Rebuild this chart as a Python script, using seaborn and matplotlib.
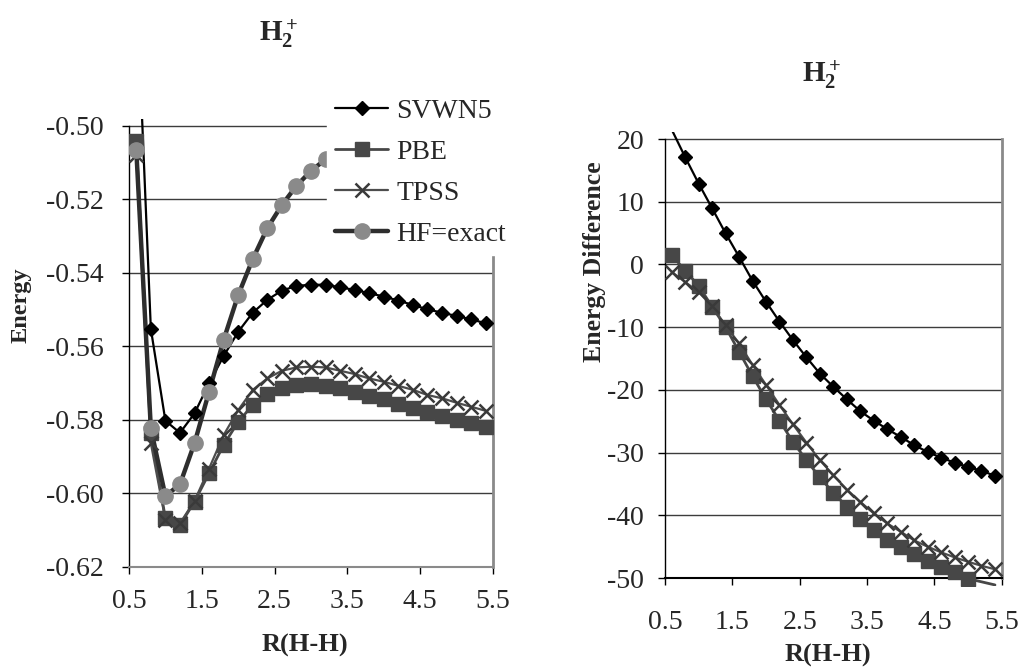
import numpy as np
import pandas as pd
import matplotlib
matplotlib.use("Agg")
import matplotlib.pyplot as plt
from matplotlib.lines import Line2D
import seaborn as sns

# ---------------- data ----------------
R = [0.6, 0.8, 1.0, 1.2, 1.4, 1.6, 1.8, 2.0, 2.2, 2.4, 2.6, 2.8, 3.0,
     3.2, 3.4, 3.6, 3.8, 4.0, 4.2, 4.4, 4.6, 4.8, 5.0, 5.2, 5.4]

# Left panel: total energies
svwn5_E = [-0.460, -0.5552, -0.5802, -0.5835, -0.5782, -0.5700, -0.5626, -0.5560,
           -0.5508, -0.5473, -0.5448, -0.5435, -0.5432, -0.5432, -0.5439, -0.5446,
           -0.5455, -0.5464, -0.5475, -0.5487, -0.5499, -0.5508, -0.5517, -0.5526, -0.5537]
pbe_E = [-0.504, -0.5836, -0.6068, -0.6086, -0.6022, -0.5945, -0.5868, -0.5805,
         -0.5759, -0.5729, -0.5714, -0.5705, -0.5702, -0.5707, -0.5714, -0.5723,
         -0.5735, -0.5744, -0.5756, -0.5768, -0.5777, -0.5789, -0.5800, -0.5809, -0.5818]
tpss_E = [-0.508, -0.5863, -0.6072, -0.6081, -0.6020, -0.5932, -0.5841, -0.5773,
          -0.5718, -0.5687, -0.5666, -0.5657, -0.5655, -0.5657, -0.5666, -0.5675,
          -0.5687, -0.5696, -0.5707, -0.5718, -0.5732, -0.5741, -0.5753, -0.5764, -0.5775]
hf_E = [-0.5065, -0.5823, -0.6007, -0.5975, -0.5863, -0.5723, -0.5582, -0.5460,
        -0.5362, -0.5278, -0.5215, -0.5163, -0.5122, -0.5091]

# Right panel: energy differences
svwn5_dE = [21.5, 17.1, 12.9, 8.95, 4.96, 1.23, -2.6, -5.95, -9.1, -12.06, -14.8,
            -17.4, -19.5, -21.5, -23.4, -24.9, -26.25, -27.5, -28.8, -29.9, -30.8,
            -31.6, -32.3, -32.9, -33.7]
pbe_dE = [1.5, -1.0, -3.4, -6.75, -10.0, -13.9, -17.8, -21.5, -24.9, -28.3, -31.2,
          -33.96, -36.4, -38.6, -40.6, -42.4, -43.9, -45.1, -46.2, -47.25, -48.2,
          -49.0, -50.1, -50.6, -51.1]
tpss_dE = [-1.2, -2.8, -4.4, -6.7, -9.7, -12.6, -16.0, -19.2, -22.4, -25.5, -28.4,
           -31.2, -33.6, -35.9, -37.85, -39.7, -41.3, -42.6, -44.0, -45.0, -45.9,
           -46.7, -47.4, -48.05, -48.6]

x_ticks = [0.5, 1.5, 2.5, 3.5, 4.5, 5.5]
left_yticks = [-0.62, -0.60, -0.58, -0.56, -0.54, -0.52, -0.50]
right_yticks = [-50, -40, -30, -20, -10, 0, 10, 20]
labels = ["SVWN5", "PBE", "TPSS", "HF=exact"]

# ---------------- style ----------------
sns.set_theme(style="white")
plt.rcParams["font.family"] = ["Liberation Serif", "DejaVu Serif"]
plt.rcParams["axes.unicode_minus"] = False
plt.rcParams["mathtext.fontset"] = "custom"
plt.rcParams["mathtext.rm"] = "Liberation Serif"
plt.rcParams["mathtext.bf"] = "Liberation Serif:bold"

styles = {
    "SVWN5": dict(color="black", lw=1.6, marker="D", ms=7.5, mfc="black", mec="black", mew=1),
    "PBE": dict(color="#474747", lw=2.0, marker="s", ms=10.0, mfc="#474747", mec="#474747", mew=1),
    "TPSS": dict(color="#4d4d4d", lw=1.6, marker="x", ms=10.0, mfc="none", mec="#3a3a3a", mew=1.8),
    "HF=exact": dict(color="#2e2e2e", lw=3.2, marker="o", ms=11.0, mfc="#8a8a8a", mec="#8a8a8a", mew=1),
}

fig = plt.figure(figsize=(10.23, 6.69), dpi=100)
axL = fig.add_axes([129 / 1023, 1 - 567 / 669, (493 - 129) / 1023, (567 - 119) / 669])
axR = fig.add_axes([665 / 1023, 1 - 586.2 / 669, (1001.7 - 665) / 1023, (586.2 - 131.5) / 669])


def draw(ax, x, y, name, lo, hi):
    st = styles[name]
    df = pd.DataFrame({"R": x[:len(y)], "E": y})
    sns.lineplot(data=df, x="R", y="E", ax=ax, color=st["color"], lw=st["lw"],
                 sort=False, estimator=None, zorder=3)
    dm = df[(df["E"] >= lo) & (df["E"] <= hi)]
    sns.lineplot(data=dm, x="R", y="E", ax=ax, linestyle="", marker=st["marker"],
                 markersize=st["ms"], markerfacecolor=st["mfc"], markeredgecolor=st["mec"],
                 markeredgewidth=st["mew"], color=st["mec"], sort=False, estimator=None,
                 zorder=4)


# ----- left panel -----
for name, vals in zip(labels, [svwn5_E, pbe_E, tpss_E, hf_E]):
    draw(axL, R, vals, name, -0.6205, -0.4995)
axL.set_xlim(0.5, 5.5)
axL.set_ylim(-0.62, -0.4981)
axL.set_yticks(left_yticks)
axL.set_yticklabels([f"{v:.2f}" for v in left_yticks])

# ----- right panel -----
for name, vals in zip(labels[:3], [svwn5_dE, pbe_dE, tpss_dE]):
    draw(axR, R, vals, name, -50.2, 20.2)
axR.set_xlim(0.5, 5.5)
axR.set_ylim(-51.3, 21.2)
axR.set_yticks(right_yticks)
axR.set_yticklabels([f"{v:d}" for v in right_yticks])

for ax, yt, bot_col in [(axL, left_yticks, "#8a8a8a"), (axR, right_yticks, "black")]:
    ax.set_facecolor("white")
    ax.set_xticks(x_ticks)
    ax.set_xticklabels([f"{v:.1f}" for v in x_ticks])
    ax.grid(False)
    for v in yt[1:]:
        ax.axhline(v, color="#3c3c3c", lw=1.0, zorder=1)
    ax.spines["top"].set_visible(False)
    ax.spines["left"].set_bounds(yt[0], yt[-1])
    ax.spines["left"].set_color("black")
    ax.spines["left"].set_linewidth(1.0)
    ax.spines["right"].set_bounds(yt[0], yt[-1])
    ax.spines["right"].set_color("#8a8a8a")
    ax.spines["right"].set_linewidth(2.0)
    ax.spines["bottom"].set_position(("data", yt[0]))
    ax.spines["bottom"].set_color(bot_col)
    ax.spines["bottom"].set_linewidth(1.5)
    ax.tick_params(axis="both", which="major", direction="out", length=5, width=1,
                   color="black", labelsize=20, left=True, bottom=True)
    ax.set_xlabel("")
    ax.set_ylabel("")

axL.tick_params(axis="y", pad=13)
axL.tick_params(axis="x", pad=11)
axR.tick_params(axis="y", pad=10)
axR.tick_params(axis="x", pad=18)

# axis labels
fig.text(21 / 1023, 1 - 305 / 669, "Energy", rotation=90, fontsize=17.5,
         fontweight="bold", ha="center", va="center")
fig.text(305 / 1023, 1 - 645 / 669, "R(H-H)", fontsize=19, fontweight="bold",
         ha="center", va="center")
fig.text(594 / 1023, 1 - 262 / 669, "Energy Difference", rotation=90, fontsize=18.5,
         fontweight="bold", ha="center", va="center")
fig.text(828 / 1023, 1 - 655 / 669, "R(H-H)", fontsize=19, fontweight="bold",
         ha="center", va="center")

# titles
fig.text(279 / 1023, 1 - 34 / 669, r"$\mathbf{H_2^+}$", fontsize=21, ha="center", va="center")
fig.text(822 / 1023, 1 - 75 / 669, r"$\mathbf{H_2^+}$", fontsize=21, ha="center", va="center")

# legend
handles = []
for name in labels:
    st = styles[name]
    handles.append(Line2D([], [], color=st["color"], lw=st["lw"], marker=st["marker"],
                          markersize=st["ms"], markerfacecolor=st["mfc"],
                          markeredgecolor=st["mec"], markeredgewidth=st["mew"]))
leg = axL.legend(handles, labels, loc="upper left",
                 bbox_to_anchor=(327 / 1023, 1 - 90 / 669), bbox_transform=fig.transFigure,
                 fontsize=20, frameon=True, fancybox=False, framealpha=1.0,
                 facecolor="white", edgecolor="white", handlelength=1.9,
                 handletextpad=0.3, labelspacing=0.56, borderpad=0.3, borderaxespad=0)
leg.set_zorder(10)

fig.savefig("out.png", dpi=100, facecolor="white")
